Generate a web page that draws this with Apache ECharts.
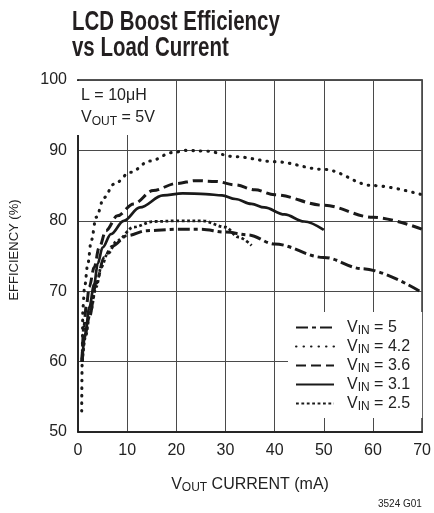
<!DOCTYPE html>
<html>
<head>
<meta charset="utf-8">
<script src="https://cdn.jsdelivr.net/npm/echarts@6/dist/echarts.min.js"></script>
<style>html,body{margin:0;padding:0;background:#fff}#c{width:434px;height:513px}</style>
</head>
<body>
<div id="c"></div>
<script>
// ---- data ----
var xTicks = [0, 10, 20, 30, 40, 50, 60, 70];
var yTicks = [50, 60, 70, 80, 90, 100];
var seriesNames = ['5', '4.2', '3.6', '3.1', '2.5'];

var cur5 = [0.8, 1.3, 2.3, 3.7, 5.3, 7, 10, 14, 20, 25, 30, 34.6, 40, 50, 57.8, 70];
var eff5 = [60, 63.5, 66.3, 71.1, 74.8, 76.4, 77.9, 78.6, 78.8, 78.8, 78.4, 78.0, 76.7, 74.8, 73.2, 69.8];

var cur42 = [0.75, 0.85, 1.0, 1.34, 2.0, 2.7, 3.7, 5.3, 7.3, 10.7, 14.6, 19.3, 22, 26, 32, 40, 50, 60, 70];
var eff42 = [53, 60, 67.7, 70.6, 73.9, 77.2, 80.5, 83.3, 85.2, 86.9, 88.5, 89.7, 90, 89.9, 89.1, 88.4, 87.3, 85.0, 83.7];

var cur36 = [0.8, 1.2, 1.7, 2.3, 3.3, 4.3, 5.7, 8, 11.3, 15.3, 20, 24, 28, 32, 36, 40, 50, 60, 70];
var eff36 = [60, 65, 68, 70.6, 73.4, 76.2, 78.6, 80.7, 82.4, 84.3, 85.3, 85.7, 85.6, 85.1, 84.4, 83.7, 82.2, 80.5, 78.8];

var cur31 = [0.8, 1.5, 2.3, 3.3, 4.0, 5.0, 6.7, 9.3, 12.6, 17.3, 21.3, 26, 29.3, 32, 35.3, 37.9, 42, 46, 50];
var eff31 = [60, 64, 67.7, 71.0, 73.9, 76.2, 78.1, 80.0, 81.9, 83.6, 83.9, 83.8, 83.6, 83.1, 82.4, 81.9, 80.9, 79.9, 78.7];

var cur25 = [0.9, 1.5, 2.5, 3.7, 4.7, 6, 8, 11.3, 15.3, 20.6, 25.3, 30, 32.6, 35.3];
var eff25 = [60, 63.5, 67, 70.6, 73.4, 75.3, 77.2, 79.1, 79.9, 80.0, 80.0, 79.1, 77.7, 76.5];

function pairs(xs, ys) { return xs.map(function (x, i) { return [x, ys[i]]; }); }

var FONT = "'Liberation Sans', Arial, sans-serif";
var INK = '#1a1a1a';

var styles = [
  { width: 3, type: [12, 4, 4, 4], cap: 'butt' },
  { width: 3.1, type: [0.5, 7], cap: 'round' },
  { width: 3, type: [10, 5], cap: 'butt' },
  { width: 2.7, type: 'solid', cap: 'butt' },
  { width: 2.8, type: [2.8, 2.6], cap: 'butt' }
];
var dataSets = [pairs(cur5, eff5), pairs(cur42, eff42), pairs(cur36, eff36), pairs(cur31, eff31), pairs(cur25, eff25)];

var series = seriesNames.map(function (n, i) {
  return {
    name: n,
    type: 'line',
    data: dataSets[i],
    smooth: 0.35,
    smoothMonotone: 'x',
    symbol: 'none',
    z: 3,
    itemStyle: { color: INK },
    lineStyle: { color: INK, width: styles[i].width, type: styles[i].type, cap: styles[i].cap }
  };
});

var chart = echarts.init(document.getElementById('c'), null, { renderer: 'canvas' });
chart.setOption({
  animation: false,
  backgroundColor: '#fff',
  grid: { left: 73.3, right: 10, top: 80, bottom: 81, show: true, borderColor: INK, borderWidth: 1.5, backgroundColor: 'transparent' },
  xAxis: {
    type: 'value', min: 0, max: 70, interval: 10,
    axisLine: { show: true, lineStyle: { color: INK, width: 1.5 } },
    axisTick: { show: false },
    splitLine: { show: true, lineStyle: { color: '#4a4a4a', width: 1 } },
    axisLabel: { fontFamily: FONT, fontSize: 16, color: '#222', margin: 11 },
    name: '{a|V}{s|OUT}{a| CURRENT (mA)}',
    nameLocation: 'middle', nameGap: 43,
    nameTextStyle: {
      rich: {
        a: { fontFamily: FONT, fontSize: 16, color: '#222' },
        s: { fontFamily: FONT, fontSize: 12, color: '#222', padding: [7, 0, 0, 0] }
      }
    }
  },
  yAxis: {
    type: 'value', min: 50, max: 100, interval: 10,
    axisLine: { show: true, lineStyle: { color: INK, width: 1.5 } },
    axisTick: { show: false },
    splitLine: { show: true, lineStyle: { color: '#4a4a4a', width: 1 } },
    axisLabel: { fontFamily: FONT, fontSize: 16, color: '#222', margin: 11 },
    name: 'EFFICIENCY (%)',
    nameLocation: 'middle', nameGap: 57, nameRotate: 90,
    nameTextStyle: { fontFamily: FONT, fontSize: 13, color: '#222', padding: [0, 0, 0, 12] }
  },
  legend: {
    orient: 'vertical',
    left: 288, top: 312,
    padding: [6, 12, 5, 7],
    backgroundColor: '#fff',
    itemWidth: 38, itemHeight: 14, itemGap: 0,
    itemStyle: { opacity: 0, borderWidth: 0 },
    data: seriesNames,
    formatter: function (n) { return '{a|V}{s|IN}{a| = ' + n + '}'; },
    textStyle: {
      padding: [0, 0, 0, 8],
      rich: {
        a: { fontFamily: FONT, fontSize: 16, color: '#222', lineHeight: 21 },
        s: { fontFamily: FONT, fontSize: 12, color: '#222', lineHeight: 14, padding: [7, 0, 0, 0] }
      }
    }
  },
  graphic: [
    {
      type: 'text', x: 72, y: 9, scaleX: 0.73, z: 11,
      style: {
        text: 'LCD Boost Efficiency\nvs Load Current',
        fontFamily: FONT, fontWeight: 'bold', fontSize: 28, lineHeight: 26, fill: '#231f20'
      }
    },
    { type: 'rect', left: 74.5, top: 81, shape: { width: 80, height: 54 }, style: { fill: '#fff' }, z: 10 },
    {
      type: 'text', left: 81, top: 88, z: 11,
      style: {
        text: '{a|L = 10μH}\n{a|V}{s|OUT}{a| = 5V}',
        rich: {
          a: { fontFamily: FONT, fontSize: 16, fill: '#222', lineHeight: 22 },
          s: { fontFamily: FONT, fontSize: 12, fill: '#222', lineHeight: 22, padding: [7, 0, 0, 0] }
        }
      }
    },
    {
      type: 'text', left: 378, top: 499, z: 11,
      style: { text: '3524 G01', fontFamily: FONT, fontSize: 10, fill: '#222' }
    }
  ],
  series: series
});
</script>
</body>
</html>
